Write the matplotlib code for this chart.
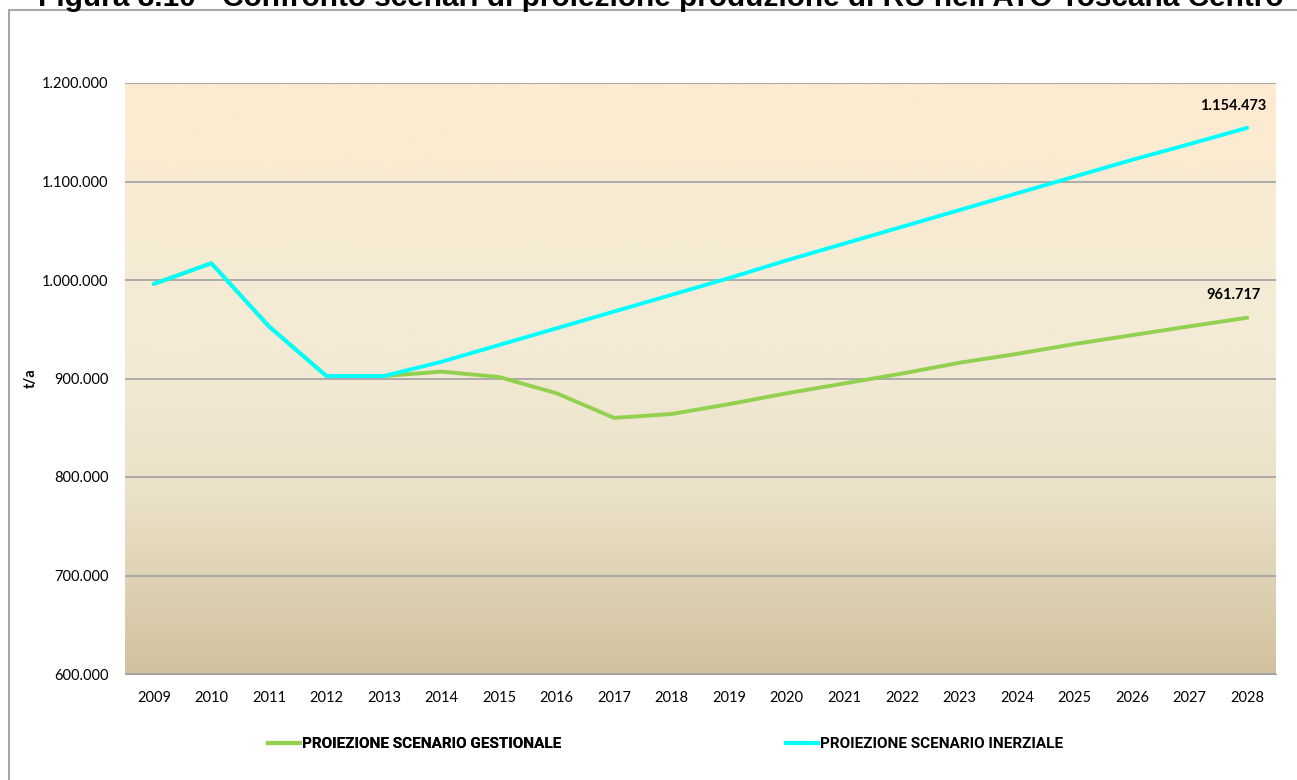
import numpy as np
import matplotlib
matplotlib.use("Agg")
import matplotlib.pyplot as plt
from matplotlib.patches import Rectangle
from matplotlib.lines import Line2D
from matplotlib.colors import LinearSegmentedColormap
from matplotlib import font_manager

years = list(range(2009, 2029))
gestionale = [996000, 1017000, 953000, 902500, 902500, 907000, 901500, 885000, 860000, 864000,
              874000, 885000, 895000, 905000, 916000, 925000, 935000, 944000, 953000, 961717]
inerziale = [996000, 1017000, 953000, 902500, 902500, 917000, 934000, 951000, 968000, 985000,
             1002000, 1020000, 1037000, 1054000, 1071000, 1088000, 1105000, 1122000, 1138000, 1154473]
labels = ["PROIEZIONE SCENARIO GESTIONALE", "PROIEZIONE SCENARIO INERZIALE"]
title = "Figura 8.10 - Confronto scenari di proiezione produzione di RU nell'ATO Toscana Centro"

def fmt(v):
    return f"{int(round(v)):,}".replace(",", ".")

plt.rcParams['font.family'] = ['Lato', 'DejaVu Sans']

names = {f.name for f in font_manager.fontManager.ttflist}
narrow = 'Liberation Sans Narrow' if 'Liberation Sans Narrow' in names else 'Roboto'

fig = plt.figure(figsize=(12.97, 7.80), dpi=100)
W, H = 1297, 780
ax = fig.add_axes([125 / W, 1 - 674 / H, (1276 - 125) / W, (674 - 83) / H])

# outer chart border
fig.patches.append(Rectangle((9 / W, -0.01), 1.2, 1 - 10 / H + 0.01, transform=fig.transFigure,
                             fill=False, edgecolor='#A6A6A6', linewidth=1.5))

# title (partially cut off at the top, as in the reference)
fig.text(0.5 + 12 / W, 1 - 6 / H, title, ha='center', va='baseline', fontsize=21.4, fontweight='bold',
         family=['Liberation Sans', 'DejaVu Sans'])

# gradient background
cmap = LinearSegmentedColormap.from_list('bg', [(0.0, '#D1C29E'), (0.3, '#EBE1C8'), (0.55, '#F3EBD6'), (1.0, '#FDEBD0')])
grad = np.linspace(0, 1, 256).reshape(-1, 1)
ax.imshow(grad, aspect='auto', cmap=cmap, origin='lower',
          extent=[-0.5, len(years) - 0.5, 600000, 1200000], zorder=0)

x = np.arange(len(years))
ax.set_xlim(-0.5, len(years) - 0.5)
ax.set_ylim(600000, 1200000)
ax.set_yticks(np.arange(600000, 1200001, 100000))
ax.set_yticklabels([fmt(v) for v in np.arange(600000, 1200001, 100000)])
ax.set_xticks(x)
ax.set_xticklabels([str(y) for y in years])
ax.tick_params(axis='both', length=0, labelsize=10.5, colors='black')
ax.tick_params(axis='y', pad=12)
ax.tick_params(axis='x', pad=12)
for s in ['left', 'right', 'top']:
    ax.spines[s].set_visible(False)
ax.spines['bottom'].set_color('#A0A0A0')
ax.grid(axis='y', color='#A0A0A0', linewidth=1.2, zorder=1)
ax.set_axisbelow(False)

ax.plot(x, gestionale, color='#92D050', linewidth=2.8, zorder=3, solid_capstyle='round')
ax.plot(x, inerziale, color='#00FFFF', linewidth=2.8, zorder=4, solid_capstyle='round')

ax.annotate(fmt(inerziale[-1]), (x[-1], inerziale[-1]), xytext=(-10, 11), textcoords='offset points',
            ha='center', va='bottom', fontsize=10.5, fontweight='bold')
ax.annotate(fmt(gestionale[-1]), (x[-1], gestionale[-1]), xytext=(-10, 11), textcoords='offset points',
            ha='center', va='bottom', fontsize=10.5, fontweight='bold')

fig.text(31 / W, 1 - 378 / H, "t/a", rotation=90, ha='center', va='center', fontsize=10.5, fontweight='bold')

prop = {'family': [narrow, 'DejaVu Sans'], 'weight': 'bold', 'size': 11}
handles = [Line2D([], [], color='#92D050', linewidth=3), Line2D([], [], color='#00FFFF', linewidth=3)]
leg1 = fig.legend([handles[0]], [labels[0]], loc='center left', bbox_to_anchor=(262 / W, 1 - 744 / H),
                  frameon=False, handlelength=2.1, handletextpad=0.15, borderaxespad=0, borderpad=0.4,
                  prop=prop)
leg2 = fig.legend([handles[1]], [labels[1]], loc='center left', bbox_to_anchor=(780 / W, 1 - 744 / H),
                  frameon=False, handlelength=2.1, handletextpad=0.15, borderaxespad=0, borderpad=0.4,
                  prop=prop)
fig.add_artist(leg1)

fig.savefig("out.png", dpi=100, facecolor='white')
